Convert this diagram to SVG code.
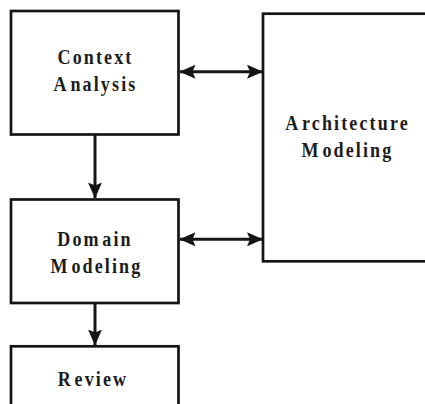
<svg xmlns="http://www.w3.org/2000/svg" width="425" height="404" viewBox="0 0 425 404">
  <style>
    .box { fill: #ffffff; stroke: #151515; stroke-width: 2.7; }
    .link { fill: none; stroke: #151515; stroke-width: 3; }
    .label { font-family: "Liberation Serif", "Times New Roman", serif; font-weight: bold; font-size: 22px; fill: #1c1c1c; letter-spacing: 2.6px; text-anchor: middle; }
  </style>
  <defs>
    <marker id="head" viewBox="0 0 16 14" refX="15.5" refY="7" markerWidth="16" markerHeight="14" markerUnits="userSpaceOnUse" orient="auto-start-reverse">
      <path d="M0,0 L16,7 L0,14 L3,7 z" fill="#151515"/>
    </marker>
  </defs>
  <rect width="425" height="404" fill="#ffffff"/>

  <!-- process steps -->
  <g id="context-analysis">
    <rect class="box" x="11" y="11" width="167.5" height="123.5"/>
    <text class="label" transform="translate(95.5 64) scale(0.82 1)">Context</text>
    <text class="label" transform="translate(95.5 91) scale(0.82 1)">A<tspan dx="2">nalysis</tspan></text>
  </g>

  <g id="domain-modeling">
    <rect class="box" x="11" y="199.5" width="167.5" height="103.5"/>
    <text class="label" transform="translate(95 246) scale(0.82 1)">Dom<tspan dx="2">ain</tspan></text>
    <text class="label" transform="translate(96.5 273) scale(0.82 1)">M<tspan dx="2">odeling</tspan></text>
  </g>

  <g id="review">
    <rect class="box" x="11" y="346.3" width="167.5" height="80"/>
    <text class="label" transform="translate(93 386) scale(0.82 1)">R<tspan dx="2">eview</tspan></text>
  </g>

  <g id="architecture-modeling">
    <rect class="box" x="263" y="13.7" width="175" height="247.6"/>
    <text class="label" transform="translate(347.5 130) scale(0.82 1)">A<tspan dx="2">rchitecture</tspan></text>
    <text class="label" transform="translate(347.5 157) scale(0.82 1)">M<tspan dx="2">odeling</tspan></text>
  </g>

  <!-- connectors -->
  <g id="connectors">
    <line class="link" x1="95" y1="135" x2="95" y2="198" marker-end="url(#head)"/>
    <line class="link" x1="95" y1="304" x2="95" y2="345" marker-end="url(#head)"/>
    <line class="link" x1="180" y1="71.7" x2="262.5" y2="71.7" marker-start="url(#head)" marker-end="url(#head)"/>
    <line class="link" x1="180" y1="239.3" x2="262.5" y2="239.3" marker-start="url(#head)" marker-end="url(#head)"/>
  </g>
</svg>
